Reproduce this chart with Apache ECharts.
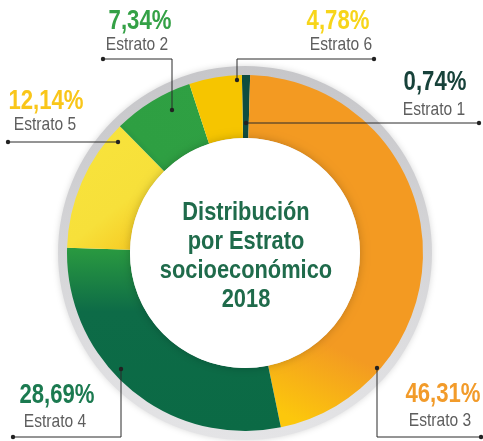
<!DOCTYPE html>
<html>
<head>
<meta charset="utf-8">
<script src="https://cdn.jsdelivr.net/npm/echarts@6/dist/echarts.min.js"></script>
<style>
  html, body { margin: 0; padding: 0; background: #fff; }
  #chart { width: 483px; height: 441px; }
</style>
</head>
<body>
<div id="chart"></div>
<script>
// datos: distribución por estrato (sentido horario desde arriba)
var estratos = ['Estrato 1', 'Estrato 3', 'Estrato 4', 'Estrato 5', 'Estrato 2', 'Estrato 6'];
var porcentajes = [0.74, 46.31, 28.69, 12.14, 7.34, 4.78];

var FONT = "'Liberation Sans', Arial, sans-serif";
var ESTRECHO = 0.82; // simula la tipografía condensada del original

// colores de cada tajada
var colores = [
  '#0f4d40',
  new echarts.graphic.LinearGradient(1, 0, 0, 1, [
    { offset: 0, color: '#f39a22' },
    { offset: 0.72, color: '#f39a22' },
    { offset: 0.93, color: '#fcc70c' }
  ]),
  new echarts.graphic.LinearGradient(0, 0, 0, 1, [
    { offset: 0, color: '#2a9a40' },
    { offset: 0.35, color: '#0d6b47' },
    { offset: 1, color: '#0b6a45' }
  ]),
  new echarts.graphic.LinearGradient(0, 0, 1, 1, [
    { offset: 0, color: '#f8e43c' },
    { offset: 0.6, color: '#f7e03a' },
    { offset: 1, color: '#f6c21a' }
  ]),
  new echarts.graphic.LinearGradient(0, 1, 1, 0, [
    { offset: 0, color: '#17703c' },
    { offset: 0.3, color: '#2e9f42' },
    { offset: 1, color: '#2fa043' }
  ]),
  '#f6c500'
];
var coloresTexto = ['#17423a', '#f29b2a', '#1b7a50', '#f9c61a', '#34a146', '#f7d51a'];

// posición de etiquetas (porcentaje / nombre) y líneas guía
var guias = [
  { px: 435, py: 83, nx: 434, ny: 110, line: [[246, 123], [360, 123], [479, 123]] },
  { px: 443, py: 395, nx: 440, ny: 421, line: [[377, 368], [377, 437], [481, 437]] },
  { px: 57, py: 396, nx: 55, ny: 422, line: [[121, 369], [121, 437], [13, 437]] },
  { px: 46, py: 102, nx: 45, ny: 125, line: [[118, 142], [60, 142], [8, 142]] },
  { px: 140, py: 22, nx: 137, ny: 45, line: [[172, 110], [172, 59], [103, 59]] },
  { px: 338, py: 22, nx: 341, ny: 45, line: [[237, 80], [237, 59], [374, 59]] }
];

function fmt(v) {
  return v.toFixed(2).replace('.', ',') + '%';
}

var datos = estratos.map(function (name, i) {
  return { name: name, value: porcentajes[i], itemStyle: { color: colores[i] } };
});

var anotaciones = [];
guias.forEach(function (g, i) {
  anotaciones.push({
    type: 'polyline',
    shape: { points: g.line },
    style: { stroke: '#2b2b2b', lineWidth: 1, fill: null },
    z: 99
  });
  [g.line[0], g.line[2]].forEach(function (p) {
    anotaciones.push({
      type: 'circle',
      shape: { cx: p[0], cy: p[1], r: 2.2 },
      style: { fill: '#222' },
      z: 100
    });
  });
  anotaciones.push({
    type: 'text',
    x: g.px,
    y: g.py,
    scaleX: ESTRECHO,
    z: 100,
    style: {
      text: fmt(porcentajes[i]),
      font: 'bold 27px ' + FONT,
      fill: coloresTexto[i],
      textAlign: 'center',
      textVerticalAlign: 'middle'
    }
  });
  anotaciones.push({
    type: 'text',
    x: g.nx,
    y: g.ny,
    scaleX: ESTRECHO,
    z: 100,
    style: {
      text: estratos[i],
      font: '19px ' + FONT,
      fill: '#5e5e5e',
      textAlign: 'center',
      textVerticalAlign: 'middle'
    }
  });
});

var chart = echarts.init(document.getElementById('chart'));
chart.setOption({
  backgroundColor: '#fff',
  animation: false,
  graphic: anotaciones.concat([
    {
      type: 'text',
      x: 246,
      y: 256,
      scaleX: 0.84,
      z: 100,
      style: {
        text: 'Distribución\npor Estrato\nsocioeconómico\n2018',
        font: 'bold 26px ' + FONT,
        fill: '#1f6b4b',
        textAlign: 'center',
        textVerticalAlign: 'middle',
        lineHeight: 29
      }
    }
  ]),
  series: [
    {
      // aro gris exterior
      type: 'pie',
      silent: true,
      center: [245, 253],
      radius: [176, 187],
      label: { show: false },
      labelLine: { show: false },
      z: 1,
      itemStyle: {
        color: new echarts.graphic.LinearGradient(0, 0, 0, 1, [
          { offset: 0, color: '#c6c6c9' },
          { offset: 1, color: '#e4e4e6' }
        ]),
        shadowBlur: 6,
        shadowColor: 'rgba(0,0,0,0.15)'
      },
      data: [{ value: 1 }]
    },
    {
      type: 'pie',
      center: [245, 253],
      radius: [115, 178],
      startAngle: 91,
      clockwise: true,
      z: 2,
      silent: true,
      data: datos,
      label: { show: false },
      labelLine: { show: false }
    },
    {
      // círculo blanco interior
      type: 'pie',
      silent: true,
      center: [245, 253],
      radius: [0, 115],
      z: 3,
      label: { show: false },
      labelLine: { show: false },
      itemStyle: {
        color: '#fff',
        shadowBlur: 10,
        shadowColor: 'rgba(0,0,0,0.22)'
      },
      data: [{ value: 1 }]
    }
  ]
});
</script>
</body>
</html>
